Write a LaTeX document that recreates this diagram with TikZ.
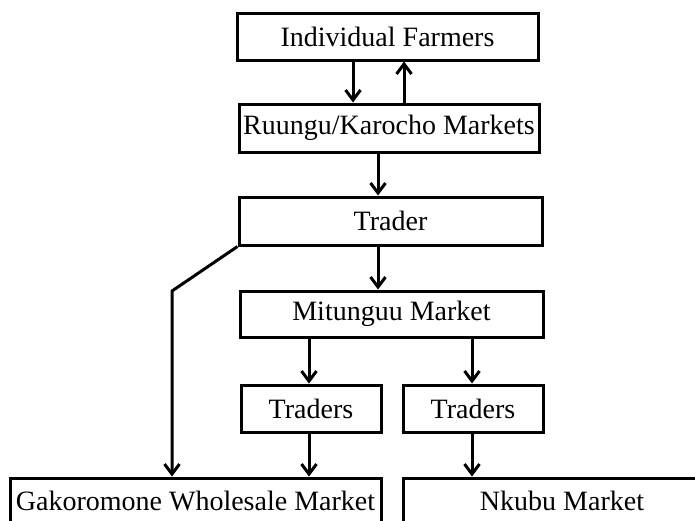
\documentclass[tikz,border=0pt]{standalone}
\usepackage{fontspec}
\setmainfont{Liberation Serif}
\usepackage{tikz}
\usetikzlibrary{arrows.meta}

\begin{document}
\begin{tikzpicture}[x=1pt,y=-1pt,
  box/.style={draw,line width=3pt,inner sep=2pt,font=\fontsize{28}{32}\selectfont},
  arr/.style={line width=3pt,-{Straight Barb[length=10pt,width=15pt,line width=3pt]}}]
\useasboundingbox (0,0) rectangle (695,520);
\clip (0,0) rectangle (695,520);

% Draw the boxes of the chain
\node[box,minimum width=301pt,minimum height=47pt] (farmers) at (387.5,36.5) {Individual Farmers};
\node[box,minimum width=300pt,minimum height=48pt] (ruungu) at (389,128) {Ruungu/Karocho Markets};
\node[box,minimum width=303pt,minimum height=48pt] (trader) at (390.5,221) {Trader};
\node[box,minimum width=303pt,minimum height=46pt] (mitunguu) at (391.5,314) {Mitunguu Market};
\node[box,minimum width=140pt,minimum height=47pt] (tradersl) at (311,408.5) {Traders};
\node[box,minimum width=140pt,minimum height=47pt] (tradersr) at (473,408.5) {Traders};
\node[box,minimum width=371pt,minimum height=46pt] (gako) at (195.5,501) {Gakoromone Wholesale Market};
\node[box,minimum width=318pt,minimum height=46pt] (nkubu) at (562,501) {Nkubu Market};

% Arrows between the boxes
\draw[arr] (353,0 |- farmers.south) -- (353,0 |- ruungu.north);
\draw[arr] (404,0 |- ruungu.north) -- (404,0 |- farmers.south);
\draw[arr] (378,0 |- ruungu.south) -- (378,0 |- trader.north);
\draw[arr] (378,0 |- trader.south) -- (378,0 |- mitunguu.north);
\draw[arr] (309,0 |- mitunguu.south) -- (309,0 |- tradersl.north);
\draw[arr] (472,0 |- mitunguu.south) -- (472,0 |- tradersr.north);
\draw[arr] (309,0 |- tradersl.south) -- (309,0 |- gako.north);
\draw[arr] (472,0 |- tradersr.south) -- (472,0 |- nkubu.north);

% Trader straight to the wholesale market
\coordinate (bend) at (172,291);
\draw[arr] (trader.south west) -- (bend) -- (bend |- gako.north);

\end{tikzpicture}
\end{document}
